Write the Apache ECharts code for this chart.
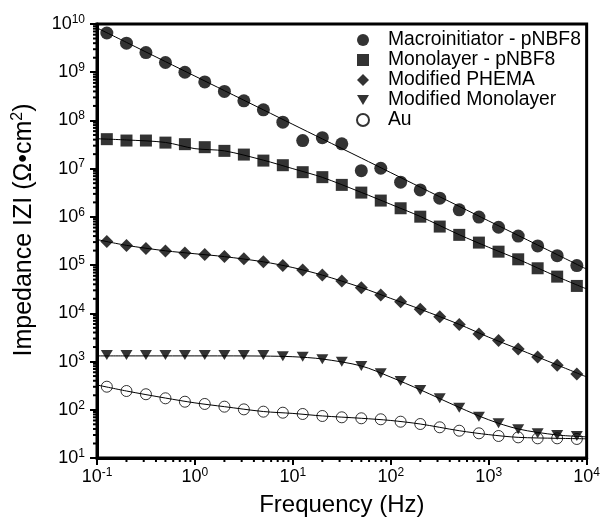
<!DOCTYPE html>
<html><head><meta charset="utf-8">
<script src="https://cdn.jsdelivr.net/npm/echarts@6/dist/echarts.min.js"></script>
<style>html,body{margin:0;padding:0;background:#fff}#c{width:603px;height:523px}</style>
</head><body><div id="c"></div>
<script>
// ---- data ----
const freq = [0.126,0.2,0.316,0.5,0.79,1.26,2,3.16,5,7.9,12.6,20,31.6,50,79,126,200,316,500,794,1260,2000,3160,5000,7940];
const macroinitiator = [6.5e9,4.0e9,2.56e9,1.59e9,1.0e9,6.3e8,4.0e8,2.55e8,1.66e8,9.2e7,3.83e7,4.4e7,3.27e7,9.1e6,1.02e7,5.25e6,3.63e6,2.44e6,1.4e6,9.9e5,6.1e5,4.0e5,2.5e5,1.57e5,9.8e4];
const monolayer = [4.09e7,3.83e7,3.83e7,3.47e7,3.22e7,2.79e7,2.34e7,1.96e7,1.47e7,1.18e7,8.45e6,6.67e6,4.61e6,3.19e6,2.18e6,1.51e6,1.01e6,6.3e5,4.24e5,2.93e5,1.9e5,1.32e5,8.6e4,5.77e4,3.7e4];
const modifiedPhema = [3.08e5,2.54e5,2.2e5,1.97e5,1.79e5,1.65e5,1.5e5,1.35e5,1.18e5,9.8e4,7.9e4,6.2e4,4.7e4,3.41e4,2.41e4,1.73e4,1.22e4,8.5e3,5.9e3,3.74e3,2.72e3,1.82e3,1.24e3,840,550];
const modifiedMonolayer = [1370,1370,1370,1370,1370,1370,1370,1370,1370,1290,1260,1120,995,810,570,395,258,173,110,72,52.5,39.4,32.5,30,28.6];
const au = [301,245,210,173,147,132,116,102,91.4,87,81.8,74.3,69.8,66.6,63.5,56.6,50.7,43.3,36.8,32.5,28.6,26.8,25.6,25.6,24.8];

// fitted curves
const fitFreq = [0.1,0.2,0.5,1,2,5,10,20,50,100,200,500,1000,2000,5000,10000];
const fitMacro = [8.3e9,4.16e9,1.66e9,8.3e8,4.15e8,1.66e8,8.28e7,4.14e7,1.66e7,8.26e6,4.13e6,1.65e6,8.24e5,4.12e5,1.65e5,8.22e4];
const fitMono = [4.17e7,3.94e7,3.5e7,2.6e7,2.34e7,1.5e7,1.0e7,6.6e6,3.22e6,1.82e6,1.02e6,4.27e5,2.34e5,1.32e5,5.75e4,3.2e4];
const fitPhema = [3.39e5,2.57e5,1.98e5,1.72e5,1.5e5,1.17e5,8.9e4,6.2e4,3.43e4,2.04e4,1.22e4,5.9e3,3.2e3,1.82e3,8.5e2,4.8e2];
const fitModMono = [1310,1310,1310,1310,1310,1300,1260,1130,810,475,260,112,62,40,30,27.5];
const fitAu = [327,245,175,139,116,92,84,74.5,66.6,60,50.7,36.8,30.5,26.8,25.6,25];

const seriesNames = ['Macroinitiator - pNBF8','Monolayer - pNBF8','Modified PHEMA','Modified Monolayer','Au'];
const xTickValues = [0.1,1,10,100,1000,10000];
const yTickValues = [10,100,1e3,1e4,1e5,1e6,1e7,1e8,1e9,1e10];
const minorMantissa = [2,3,4,5,6,7,8,9];

// ---- chart ----
const FONT = 'Liberation Sans, Arial, Helvetica, sans-serif';
const pairs = (xs, ys) => xs.map((x, i) => [x, ys[i]]);
const supFmt = v => '{b|10}{s|' + Math.round(Math.log10(v)) + '}';
const richLbl = {
  b: {fontSize: 18, fontFamily: FONT, color: '#000'},
  s: {fontSize: 12, fontFamily: FONT, color: '#000', padding: [0, 0, 9, 0]}
};
const xMinor = [], yMinor = [];
xTickValues.slice(0, -1).forEach(d => minorMantissa.forEach(m => xMinor.push([d * m, 10])));
yTickValues.slice(0, -1).forEach(d => minorMantissa.forEach(m => yMinor.push([0.1, d * m])));

const triPath = 'path://M0,0L12,0L6,10Z';
const symbols = ['circle', 'rect', 'diamond', triPath, 'circle'];
const sizes = [13, 12, 13, [12, 10], 11];
const dataSets = [macroinitiator, monolayer, modifiedPhema, modifiedMonolayer, au];
const fitSets = [fitMacro, fitMono, fitPhema, fitModMono, fitAu];

const series = [];
fitSets.forEach((f, i) => series.push({
  type: 'line', name: 'fit' + i, data: pairs(fitFreq, f), showSymbol: false, smooth: 0.3,
  lineStyle: {color: '#000', width: 1}, silent: true, z: 2
}));
dataSets.forEach((d, i) => series.push({
  type: 'scatter', name: seriesNames[i], data: pairs(freq, d), symbol: symbols[i], symbolSize: sizes[i],
  itemStyle: i === 4 ? {color: 'rgba(0,0,0,0)', borderColor: '#000', borderWidth: 1} : {color: '#000'},
  z: 3
}));
series.push({
  type: 'custom', data: xMinor, silent: true, clip: false, z: 5,
  renderItem: (p, api) => {
    const c = api.coord([api.value(0), api.value(1)]);
    return {type: 'line', shape: {x1: c[0], y1: c[1], x2: c[0], y2: c[1] + 4}, style: {stroke: '#000', lineWidth: 2}};
  }
});
series.push({
  type: 'custom', data: yMinor, silent: true, clip: false, z: 5,
  renderItem: (p, api) => {
    const c = api.coord([api.value(0), api.value(1)]);
    return {type: 'line', shape: {x1: c[0], y1: c[1], x2: c[0] - 4, y2: c[1]}, style: {stroke: '#000', lineWidth: 2}};
  }
});

const chart = echarts.init(document.getElementById('c'));
chart.setOption({
  animation: false,
  backgroundColor: '#fff',
  grid: {left: 97, right: 14, top: 24, bottom: 65, show: true, borderColor: '#000', borderWidth: 3, backgroundColor: 'transparent'},
  legend: {
    orient: 'vertical', left: 351, top: 25, itemWidth: 12, itemHeight: 12, itemGap: 0,
    textStyle: {fontSize: 19.3, fontFamily: FONT, color: '#000', lineHeight: 20, padding: [0, 0, 0, 14]},
    data: seriesNames.map((n, i) => ({name: n, icon: symbols[i]}))
  },
  xAxis: {
    type: 'log', logBase: 10, min: xTickValues[0], max: xTickValues[xTickValues.length - 1], splitNumber: 5,
    name: 'Frequency (Hz)', nameLocation: 'middle', nameGap: 35,
    nameTextStyle: {fontSize: 24, fontFamily: FONT, color: '#000'},
    axisLine: {lineStyle: {color: '#000', width: 3}},
    axisTick: {inside: false, length: 7, lineStyle: {color: '#000', width: 2}},
    axisLabel: {formatter: supFmt, rich: richLbl, margin: 9, color: '#000'},
    splitLine: {show: false}
  },
  yAxis: {
    type: 'log', logBase: 10, min: yTickValues[0], max: yTickValues[yTickValues.length - 1], splitNumber: 9,
    name: 'Impedance IZI (Ω•cm{sup|2})', nameLocation: 'middle', nameGap: 59,
    nameTextStyle: {fontSize: 25, fontFamily: FONT, color: '#000', padding: [0, 0, 0, 22],
      rich: {sup: {fontSize: 16, fontFamily: FONT, color: '#000', padding: [0, 0, 12, 0]}}},
    axisLine: {lineStyle: {color: '#000', width: 3}},
    axisTick: {inside: false, length: 7, lineStyle: {color: '#000', width: 2}},
    axisLabel: {formatter: supFmt, rich: richLbl, margin: 12, color: '#000'},
    splitLine: {show: false}
  },
  series: series
});
</script></body></html>
